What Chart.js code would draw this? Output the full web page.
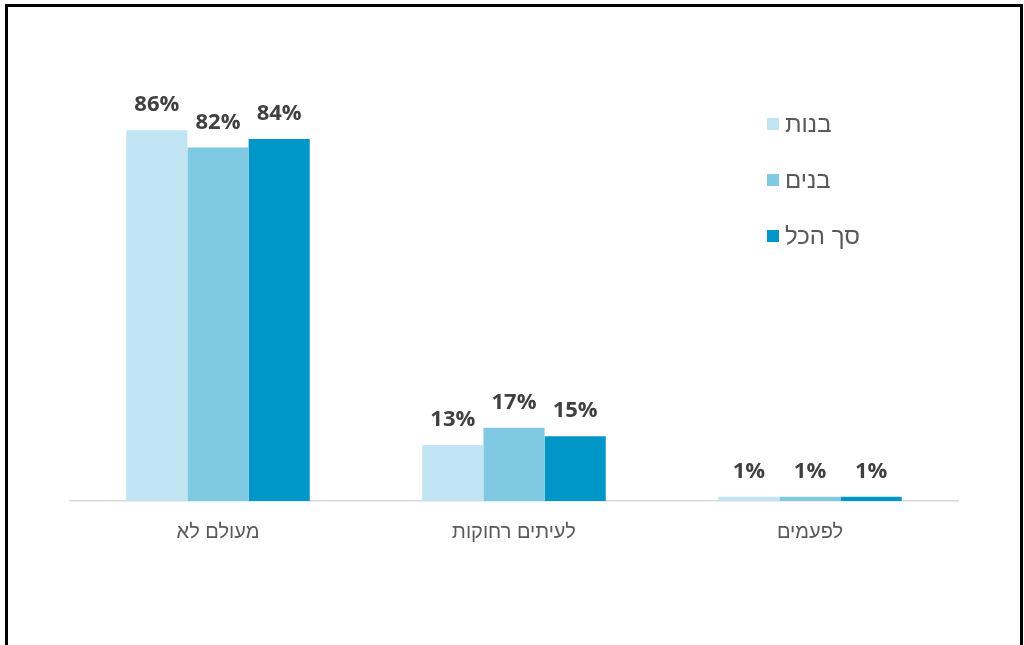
<!DOCTYPE html>
<html>
<head>
<meta charset="utf-8">
<script src="https://cdn.jsdelivr.net/npm/chart.js@4.4.1/dist/chart.umd.min.js"></script>
<style>
html,body{margin:0;padding:0;background:#fff;}
#wrap{position:absolute;left:0;top:0;width:1024px;height:645px;overflow:hidden;}
#frame{position:absolute;left:5px;top:4px;width:1012px;height:700px;border:3px solid #000;box-sizing:content-box;}
#c{position:absolute;left:0;top:0;}
</style>
</head>
<body>
<div id="wrap">
<div id="frame"></div>
<canvas id="c" width="1024" height="645"></canvas>
</div>
<script>
var CATS=['מעולם לא','לעיתים רחוקות','לפעמים'];
var SERIES=['בנות','בנים','סך הכל'];
var GIRLS=[86,13,1];
var BOYS=[82,17,1];
var TOTAL=[84,15,1];
var COLORS=['#C1E4F3','#7FC9E3','#0096C8'];
var TXT='#595959';
var HEB="'Liberation Sans','DejaVu Sans',sans-serif";

// the source chart puts the words in the opposite order to normal bidi, so draw word by word
function drawWords(ctx,s,x,y,align){
  var words=s.split(' ').reverse();
  var sp=ctx.measureText(' ').width;
  var total=0;
  words.forEach(function(w,i){total+=ctx.measureText(w).width+(i?sp:0);});
  var cx=align==='center'?x-total/2:x;
  ctx.textAlign='left';
  words.forEach(function(w){
    ctx.fillText(w,cx,y);
    cx+=ctx.measureText(w).width+sp;
  });
}

// value labels above each bar
var valueLabels={
  id:'valueLabels',
  afterDatasetsDraw:function(chart){
    var ctx=chart.ctx;
    ctx.save();
    ctx.font="bold 22px 'Open Sans',sans-serif";
    ctx.fillStyle='#404040';
    ctx.textAlign='center';
    ctx.textBaseline='alphabetic';
    chart.data.datasets.forEach(function(ds,i){
      chart.getDatasetMeta(i).data.forEach(function(bar,j){
        ctx.fillText(ds.data[j]+'%',bar.x,bar.y-19);
      });
    });
    ctx.restore();
  }
};

// category labels under the axis
var catLabels={
  id:'catLabels',
  afterDraw:function(chart){
    var ctx=chart.ctx,xs=chart.scales.x;
    ctx.save();
    ctx.font='20px '+HEB;
    ctx.fillStyle=TXT;
    ctx.textBaseline='middle';
    chart.data.labels.forEach(function(l,i){
      drawWords(ctx,l,xs.getPixelForValue(i),chart.chartArea.bottom+31,'center');
    });
    ctx.restore();
  }
};

// legend drawn inside the plot area
var insideLegend={
  id:'insideLegend',
  afterDraw:function(chart){
    var ctx=chart.ctx;
    ctx.save();
    ctx.font='24px '+HEB;
    ctx.textBaseline='middle';
    chart.data.datasets.forEach(function(ds,i){
      var y=124+i*56;
      ctx.fillStyle=ds.backgroundColor;
      ctx.fillRect(767,y-6,12,12);
      ctx.fillStyle=TXT;
      drawWords(ctx,ds.label,785,y+1,'left');
    });
    ctx.restore();
  }
};

new Chart(document.getElementById('c'),{
  type:'bar',
  data:{
    labels:CATS,
    datasets:[
      {label:SERIES[0],data:GIRLS,backgroundColor:COLORS[0]},
      {label:SERIES[1],data:BOYS,backgroundColor:COLORS[1]},
      {label:SERIES[2],data:TOTAL,backgroundColor:COLORS[2]}
    ]
  },
  options:{
    responsive:false,
    animation:false,
    layout:{padding:{left:70,right:66,top:70,bottom:0}},
    datasets:{bar:{categoryPercentage:0.62,barPercentage:1,borderWidth:0}},
    plugins:{legend:{display:false},tooltip:{enabled:false}},
    scales:{
      x:{
        grid:{display:false,drawTicks:false},
        border:{display:true,color:'#D9D9D9',width:1.5},
        ticks:{display:false},
        afterFit:function(s){s.height=144;}
      },
      y:{display:false,min:0,max:100}
    }
  },
  plugins:[valueLabels,catLabels,insideLegend]
});
</script>
</body>
</html>
